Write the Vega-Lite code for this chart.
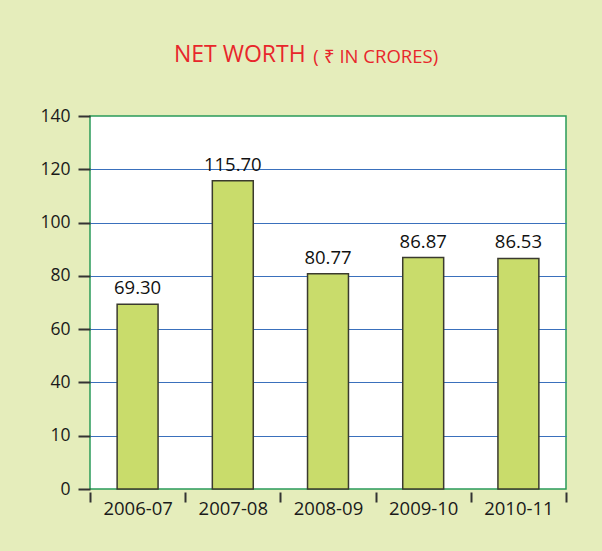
{
  "$schema": "https://vega.github.io/schema/vega-lite/v6.json",
  "width": 476,
  "height": 373,
  "autosize": "none",
  "padding": {"left": 90, "top": 116, "right": 36, "bottom": 62},
  "background": "#e5edbb",
  "title": {
    "text": "NET WORTH",
    "subtitle": "\u200b\u00a0\u00a0\u00a0\u00a0\u00a0\u00a0\u00a0\u00a0\u00a0\u00a0\u00a0\u00a0\u00a0\u00a0\u00a0\u00a0\u00a0\u00a0\u00a0\u00a0\u00a0\u00a0\u00a0\u00a0\u00a0\u00a0\u00a0\u00a0\u00a0( ₹ IN CRORES)",
    "anchor": "start",
    "frame": "group",
    "dx": 84,
    "font": "Open Sans",
    "fontSize": 23,
    "fontWeight": "normal",
    "color": "#e8262b",
    "subtitleFont": "Open Sans",
    "subtitleFontSize": 18.5,
    "subtitleColor": "#e8262b",
    "subtitlePadding": -19,
    "offset": 40
  },
  "config": {
    "view": {"stroke": "#2a9a5a", "strokeWidth": 1.5, "fill": "white"}
  },
  "data": {
    "values": [
      {"year": "2006-07", "value": 69.30},
      {"year": "2007-08", "value": 115.70},
      {"year": "2008-09", "value": 80.77},
      {"year": "2009-10", "value": 86.87},
      {"year": "2010-11", "value": 86.53}
    ]
  },
  "encoding": {
    "x": {
      "field": "year",
      "type": "nominal",
      "sort": null,
      "scale": {"paddingInner": 0, "paddingOuter": 0},
      "axis": {
        "title": null,
        "tickBand": "extent",
        "domain": false,
        "labelAngle": 0,
        "labelFont": "Open Sans",
        "labelFontSize": 18.5,
        "labelColor": "#1a1a1a",
        "tickColor": "#333333",
        "tickWidth": 2,
        "tickSize": 10,
        "offset": 3,
        "labelPadding": -3
      }
    },
    "y": {
      "field": "value",
      "type": "quantitative",
      "scale": {"domain": [0, 140], "nice": false},
      "axis": {
        "title": null,
        "values": [0, 20, 40, 60, 80, 100, 120, 140],
        "labelExpr": "datum.value == 20 ? '10' : datum.label",
        "grid": true,
        "gridColor": "#3a70bc",
        "gridWidth": 1.2,
        "gridOpacity": {"condition": {"test": "datum.value == 0 || datum.value == 140", "value": 0}, "value": 1},
        "domain": false,
        "labelFont": "Open Sans",
        "labelFontSize": 17.5,
        "labelColor": "#1a1a1a",
        "tickColor": "#333333",
        "tickWidth": 2,
        "tickSize": 12,
        "labelPadding": 8
      }
    }
  },
  "layer": [
    {
      "mark": {"type": "bar", "width": {"band": 0.43}, "fill": "#c9dc6b", "stroke": "#3a3a2e", "strokeWidth": 1.5}
    },
    {
      "mark": {"type": "text", "baseline": "bottom", "dy": -6, "font": "Open Sans", "fontSize": 18.5, "color": "#111111"},
      "encoding": {"text": {"field": "value", "type": "quantitative", "format": ".2f"}}
    }
  ]
}
